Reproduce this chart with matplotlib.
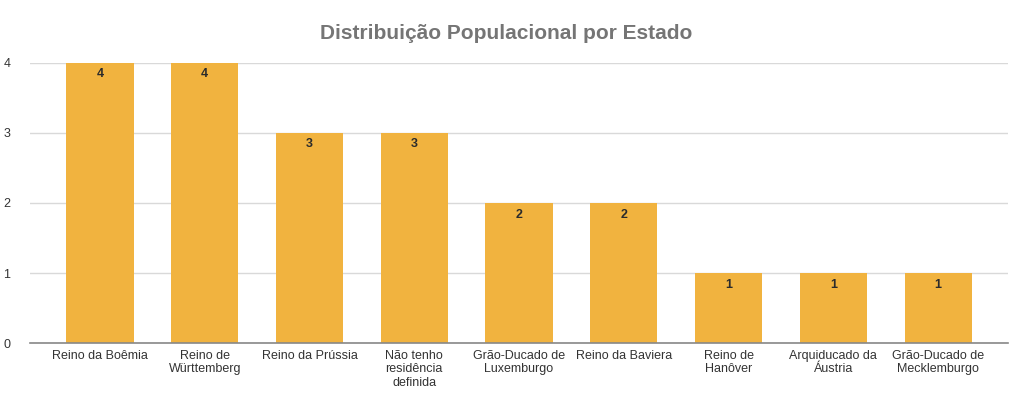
import matplotlib
matplotlib.use('Agg')
import matplotlib.pyplot as plt

### DATA ###
estados = ['Reino da Boêmia', 'Reino de\nWürttemberg', 'Reino da Prússia',
           'Não tenho\nresidência\ndefinida', 'Grão-Ducado de\nLuxemburgo',
           'Reino da Baviera', 'Reino de\nHanôver', 'Arquiducado da\nÁustria',
           'Grão-Ducado de\nMecklemburgo']
contagem = [4, 4, 3, 3, 2, 2, 1, 1, 1]
yticks = [0, 1, 2, 3, 4]

plt.rcParams['font.family'] = ['Liberation Sans', 'DejaVu Sans']

fig = plt.figure(figsize=(10.24, 3.98), dpi=100)
ax = fig.add_axes([0.0293, 0.138, 0.9551, 0.704])

x = range(len(estados))
bars = ax.bar(x, contagem, width=0.64, color='#F1B33F', zorder=3)

# value labels inside the top of each bar
for b, v in zip(bars, contagem):
    ax.annotate(str(v), (b.get_x() + b.get_width() / 2, v), xytext=(0, -4),
                textcoords='offset points', ha='center', va='top',
                fontsize=9, fontweight='bold', color='#2b2b2b', zorder=4)

ax.set_xlim(-0.668, len(estados) - 1 + 0.668)
ax.set_ylim(0, 4)
ax.set_yticks(yticks)
ax.set_xticks(list(x))
ax.set_xticklabels(estados, fontsize=9, color='#333333', linespacing=1.15)
ax.tick_params(axis='y', labelsize=9, labelcolor='#333333', length=0, pad=14)
ax.tick_params(axis='x', length=0, pad=5)
ax.grid(axis='y', color='#d9d9d9', linewidth=1, zorder=0)
for s in ['top', 'right', 'left']:
    ax.spines[s].set_visible(False)
ax.spines['bottom'].set_color('#888888')
ax.spines['bottom'].set_linewidth(1.2)
ax.spines['bottom'].set_zorder(5)

fig.text(0.494, 0.915, 'Distribuição Populacional por Estado', ha='center', va='center',
         fontsize=15, fontweight='bold', color='#757575')

fig.savefig('out.png', dpi=100)
